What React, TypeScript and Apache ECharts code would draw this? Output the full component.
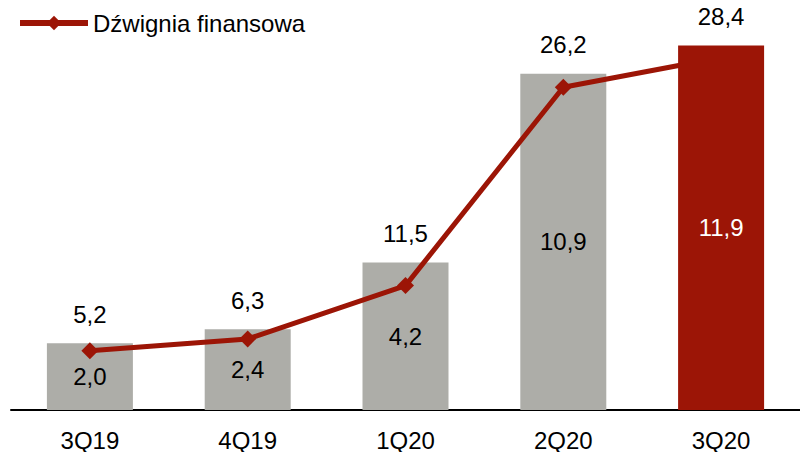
import React, { useEffect, useRef } from "react";
import * as echarts from "echarts";

const categories = ["3Q19", "4Q19", "1Q20", "2Q20", "3Q20"];
const barValues = [5.2, 6.3, 11.5, 26.2, 28.4];
const leverageValues = [2.0, 2.4, 4.2, 10.9, 11.9];
const highlightCategory = "3Q20";
const lineName = "Dźwignia finansowa";

const FONT = "'Liberation Sans', Arial, sans-serif";
const GRAY = "#adada8";
const RED = "#9c1506";
const fmt = (v: number) => v.toFixed(1).replace(".", ",");

export default function App() {
  const ref = useRef<HTMLDivElement>(null);
  useEffect(() => {
    if (!ref.current) return;
    const chart = echarts.init(ref.current, undefined, { renderer: "svg" });
    const isHi = (i: number) => categories[i] === highlightCategory;
    const grayData = barValues.map((v, i) => (isHi(i) ? null : v));
    const redData = barValues.map((v, i) => (isHi(i) ? v : null));
    const insideData = barValues.map((v, i) => ({
      value: v,
      label: { color: isHi(i) ? "#ffffff" : "#000000" },
    }));
    const common = { barWidth: 86, barGap: "-100%" };
    chart.setOption({
      animation: false,
      legend: {
        data: [lineName],
        left: 12,
        top: 6,
        itemWidth: 68,
        itemHeight: 18,
        lineStyle: { width: 6, color: RED },
        itemStyle: { color: RED },
        textStyle: { fontSize: 24, fontFamily: FONT, color: "#000" },
      },
      grid: { left: 11, width: 797, top: 25, bottom: 41 },
      xAxis: {
        type: "category",
        data: categories,
        axisLine: { lineStyle: { color: "#000", width: 2 } },
        axisTick: { show: false },
        axisLabel: { fontSize: 24, fontFamily: FONT, color: "#000", margin: 18 },
      },
      yAxis: [
        { type: "value", min: 0, max: 30, show: false, splitLine: { show: false } },
        { type: "value", min: 0, max: 13, show: false, splitLine: { show: false } },
      ],
      series: [
        { type: "bar", data: grayData, ...common, itemStyle: { color: GRAY }, z: 2 },
        {
          name: lineName,
          type: "line",
          yAxisIndex: 1,
          data: leverageValues,
          symbol: "diamond",
          symbolSize: 17,
          lineStyle: { color: RED, width: 5 },
          itemStyle: { color: RED },
          z: 3,
        },
        { type: "bar", data: redData, ...common, itemStyle: { color: RED }, z: 4 },
        {
          type: "bar",
          data: barValues,
          ...common,
          itemStyle: { color: "transparent" },
          silent: true,
          z: 5,
          label: {
            show: true,
            position: "top",
            distance: 17,
            fontSize: 24,
            fontFamily: FONT,
            color: "#000",
            backgroundColor: "#ffffff",
            padding: [0, 3],
            formatter: (p: any) => fmt(p.value),
          },
        },
        {
          type: "bar",
          data: insideData,
          ...common,
          itemStyle: { color: "transparent" },
          silent: true,
          z: 6,
          label: {
            show: true,
            position: "inside",
            fontSize: 24,
            fontFamily: FONT,
            formatter: (p: any) => fmt(leverageValues[p.dataIndex]),
          },
        },
      ],
    });
    return () => chart.dispose();
  }, []);
  return (
    <div
      ref={ref}
      style={{ position: "absolute", left: 0, top: 0, width: 800, height: 452, overflow: "hidden" }}
    />
  );
}
